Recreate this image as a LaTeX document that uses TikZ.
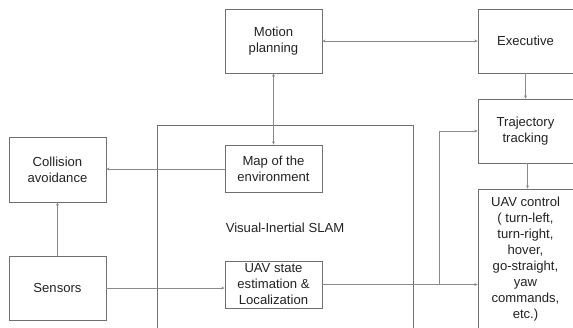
\documentclass[tikz,border=0pt]{standalone}
\usepackage{fontspec}
\setmainfont{Liberation Sans}
\usetikzlibrary{arrows.meta}
\definecolor{boxline}{HTML}{707070}
\definecolor{arrline}{HTML}{8A8A8A}
\definecolor{txt}{HTML}{222222}
\begin{document}
\begin{tikzpicture}[x=1pt,y=-1pt,
  box/.style={draw=boxline,line width=0.9pt,rectangle,inner sep=0pt,align=center,
     text=txt,font=\fontsize{13.1}{16}\selectfont},
  conn/.style={draw=arrline,line width=0.9pt},
  tip/.style={-{Stealth[length=3.2pt,width=3pt]}},
  dtip/.style={{Stealth[length=3.2pt,width=3pt]}-{Stealth[length=3.2pt,width=3pt]}}]
\useasboundingbox (0,0) rectangle (573,327);
\begin{scope}
\clip (0,0) rectangle (573,327);
\node[box,minimum width=256pt,minimum height=210pt] (slam) at (285,230) {};
\node[box,draw=none] (slamlbl) at (285,228) {Visual-Inertial SLAM};
\node[box,minimum width=97pt,minimum height=64pt] (motion) at (273.5,41) {Motion\\planning};
\node[box,minimum width=95pt,minimum height=64pt] (exec) at (525.5,41) {Executive};
\node[box,minimum width=95pt,minimum height=64pt] (traj) at (525.5,131) {Trajectory\\tracking};
\node[box,minimum width=95pt,minimum height=140pt] (uavc) at (525.5,259) {UAV control\\( turn-left,\\turn-right,\\hover,\\go-straight,\\yaw\\commands,\\etc.)};
\node[box,minimum width=97pt,minimum height=47pt] (map) at (273.5,168.5) {Map of the\\environment};
\node[box,minimum width=97pt,minimum height=65pt] (coll) at (57.5,169.5) {Collision\\avoidance};
\node[box,minimum width=97pt,minimum height=64pt] (sens) at (57.5,288) {Sensors};
\node[box,minimum width=97pt,minimum height=47pt] (uavs) at (273.5,284.5) {UAV state\\estimation \&\\Localization};
\draw[conn,dtip] (motion.east) -- (exec.west);
\draw[conn,dtip] (motion.south) -- (map.north);
\draw[conn,tip] (exec.south) -- (traj.north);
\draw[conn,tip] ([xshift=2pt]traj.south) -- ([xshift=2pt]uavc.north);
\draw[conn,tip] (map.west |- 0,169) -- (coll.east |- 0,169);
\draw[conn,tip] (sens.north) -- (coll.south);
\draw[conn,tip] (sens.east) -- (sens.east -| uavs.west);
\draw[conn,tip] (uavs.east) -- (uavs.east -| uavc.west);
\coordinate (br) at (439,284.5);
\draw[conn,tip] (br) |- (traj.west);
\end{scope}
\end{tikzpicture}
\end{document}
